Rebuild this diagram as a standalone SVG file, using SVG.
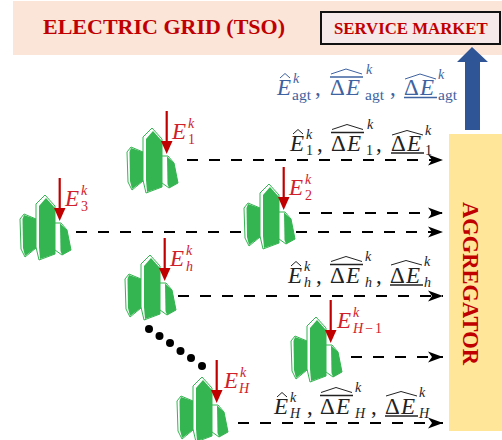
<svg xmlns="http://www.w3.org/2000/svg" width="502" height="440" viewBox="0 0 502 440">
<style>
text{font-family:"Liberation Serif",serif}
.t{font-weight:bold;fill:#c00000}
.e{font-style:italic;font-size:23px}
.r{font-size:23px}
.s{font-size:14px}
.a{font-size:15.500px}
.i{font-style:italic}
.lab{fill:#222}
.blue{fill:#3f62a0}
.red{fill:#d0202a}
.lh{fill:none;stroke:#222;stroke-width:1}
.lb{stroke:#222;stroke-width:1.4}
.bh{fill:none;stroke:#3f62a0;stroke-width:1}
.bb{stroke:#3f62a0;stroke-width:1.4}
.c{fill:none;stroke:#000;stroke-width:2;stroke-dasharray:11 11;marker-end:url(#ah)}
.w{fill:#fff;stroke:#35b551;stroke-width:1}
.g{fill:#35b551}
</style>
<defs>
<marker id="ah" markerUnits="userSpaceOnUse" markerWidth="16" markerHeight="12" refX="15" refY="6" orient="auto"><path d="M0 0.5L15 6L0 11.500L4 6Z" fill="#000"/></marker>
<g id="bld">
<path class="w" d="M17 52L21 47L33 52V81L22 90L18 82Z"/>
<path class="g" d="M19.500 52L21 48L33 52V81L22 89L20 81Z"/>
<path class="w" d="M33 37L42 28L52 39V87L36 93L33 80Z"/>
<path class="g" d="M36 39L43 31L52 41V87L37 92L36 80Z"/>
<path class="w" d="M52 56L58 56L64 63L68 83L59 88L52 83Z"/>
<path class="g" d="M57 56.500L64 63L68 83L59 88L57.500 84Z"/>
<path d="M56.700 11V44" stroke="#c00000" stroke-width="2.200" fill="none"/>
<path d="M51 41H62.500L56.700 54Z" fill="#c00000"/>
</g>
</defs>
<rect x="13" y="1" width="489" height="54" fill="#fae5d8"/>
<g id="grid"><text class="t" x="43" y="34" font-size="22">ELECTRIC GRID (TSO)</text></g>
<g id="market"><rect x="321" y="12" width="179" height="32" fill="#f6e9e9" stroke="#111" stroke-width="2"/><text class="t" x="334" y="34" font-size="16.800">SERVICE MARKET</text></g>
<g id="aggregator"><rect x="449" y="134" width="53" height="297" fill="#ffe699"/><text class="t" transform="translate(463,202) rotate(90)" font-size="22.500">AGGREGATOR</text></g>
<g id="connectors">
<path class="c" d="M187 160H443"/>
<path class="c" d="M299 213H443"/>
<path class="c" d="M76 232H443"/>
<path class="c" d="M178 296H443"/>
<path class="c" d="M351 357H443"/>
<path class="c" d="M238 423H443"/>
<path d="M465 130V62H457L472 47L488 62H480V130Z" fill="#2f5597"/>
<g fill="#000"><circle cx="149" cy="329" r="4"/><circle cx="159.500" cy="336" r="4"/><circle cx="170" cy="343" r="4"/><circle cx="180.500" cy="351" r="4"/><circle cx="191" cy="358" r="4"/><circle cx="202" cy="366" r="4"/></g>
</g>
<g id="h1"><use href="#bld" x="110" y="100"/><text class="red" x="172" y="139"><tspan class="e">E</tspan><tspan class="s i" x="188" y="128">k</tspan><tspan class="s" x="188" y="144">1</tspan></text></g>
<g id="h2"><use href="#bld" x="227" y="156"/><text class="red" x="289" y="195"><tspan class="e">E</tspan><tspan class="s i" x="305" y="184">k</tspan><tspan class="s" x="305" y="200">2</tspan></text></g>
<g id="h3"><use href="#bld" x="3" y="167"/><text class="red" x="65" y="206"><tspan class="e">E</tspan><tspan class="s i" x="81" y="195">k</tspan><tspan class="s" x="81" y="211">3</tspan></text></g>
<g id="hh"><use href="#bld" x="108" y="227"/><text class="red" x="170" y="266"><tspan class="e">E</tspan><tspan class="s i" x="186" y="255">k</tspan><tspan class="s i" x="186" y="271">h</tspan></text></g>
<g id="hH1"><use href="#bld" x="274" y="289"/><text class="red" x="337" y="328"><tspan class="e">E</tspan><tspan class="s i" x="353" y="317">k</tspan><tspan class="s" x="353" y="333"><tspan class="i">H</tspan><tspan dx="2">−</tspan><tspan dx="2">1</tspan></tspan></text></g>
<g id="hH"><use href="#bld" x="160" y="349"/><text class="red" x="224" y="388"><tspan class="e">E</tspan><tspan class="s i" x="240" y="377">k</tspan><tspan class="s i" x="239" y="393">H</tspan></text></g>
<g id="lab1" class="lab">
<path class="lh" d="M293 134L298 129.500L303 134"/><text x="290" y="151"><tspan class="e">E</tspan><tspan class="s i" x="306" y="139">k</tspan><tspan class="s" x="306" y="155">1</tspan><tspan class="r" x="317" y="151">,</tspan></text>
<path class="lb" d="M331 132.500H364"/><path class="lh" d="M332 129.500L347 124.500L363 129.500"/><text x="331" y="151"><tspan class="r">Δ</tspan><tspan class="e" x="347">E</tspan><tspan class="s i" x="367" y="129">k</tspan><tspan class="s" x="366" y="155">1</tspan><tspan class="r" x="376" y="151">,</tspan></text>
<path class="lh" d="M392 135L407 130.500L423 135"/><path class="lb" d="M391 153H424"/><text x="391" y="151"><tspan class="r">Δ</tspan><tspan class="e" x="407">E</tspan><tspan class="s i" x="425" y="135">k</tspan><tspan class="s" x="425" y="155">1</tspan></text>
</g>
<g id="labh" class="lab">
<path class="lh" d="M291 266L296 261.500L301 266"/><text x="288" y="283"><tspan class="e">E</tspan><tspan class="s i" x="304" y="271">k</tspan><tspan class="s i" x="304" y="287">h</tspan><tspan class="r" x="316" y="283">,</tspan></text>
<path class="lb" d="M330 264.500H363"/><path class="lh" d="M331 261.500L346 256.500L362 261.500"/><text x="330" y="283"><tspan class="r">Δ</tspan><tspan class="e" x="346">E</tspan><tspan class="s i" x="365" y="261">k</tspan><tspan class="s i" x="365" y="287">h</tspan><tspan class="r" x="376" y="283">,</tspan></text>
<path class="lh" d="M391 265L406 260.500L422 265"/><path class="lb" d="M390 285H423"/><text x="390" y="283"><tspan class="r">Δ</tspan><tspan class="e" x="406">E</tspan><tspan class="s i" x="424" y="266">k</tspan><tspan class="s i" x="424" y="287">h</tspan></text>
</g>
<g id="labH" class="lab">
<path class="lh" d="M277 397L282 392.500L287 397"/><text x="274" y="414"><tspan class="e">E</tspan><tspan class="s i" x="290" y="402">k</tspan><tspan class="s i" x="290" y="418">H</tspan><tspan class="r" x="307" y="414">,</tspan></text>
<path class="lb" d="M320 395.500H353"/><path class="lh" d="M321 392.500L336 387.500L352 392.500"/><text x="320" y="414"><tspan class="r">Δ</tspan><tspan class="e" x="336">E</tspan><tspan class="s i" x="355" y="392">k</tspan><tspan class="s i" x="355" y="418">H</tspan><tspan class="r" x="371" y="414">,</tspan></text>
<path class="lh" d="M386 396L401 391.500L417 396"/><path class="lb" d="M385 416H418"/><text x="385" y="414"><tspan class="r">Δ</tspan><tspan class="e" x="401">E</tspan><tspan class="s i" x="419" y="397">k</tspan><tspan class="s i" x="419" y="418">H</tspan></text>
</g>
<g id="labagt" class="blue">
<path class="bh" d="M280 78L285 73.500L290 78"/><text x="277" y="95"><tspan class="e">E</tspan><tspan class="s i" x="293" y="83">k</tspan><tspan class="a" x="292" y="100">agt</tspan><tspan class="r" x="315" y="95">,</tspan></text>
<path class="bb" d="M330 77H363"/><path class="bh" d="M331 74L346 69L362 74"/><text x="330" y="95"><tspan class="r">Δ</tspan><tspan class="e" x="346">E</tspan><tspan class="s i" x="366" y="74">k</tspan><tspan class="a" x="365" y="100">agt</tspan><tspan class="r" x="390" y="95">,</tspan></text>
<path class="bh" d="M405 79L420 74L436 79"/><path class="bb" d="M404 97.500H437"/><text x="404" y="95"><tspan class="r">Δ</tspan><tspan class="e" x="420">E</tspan><tspan class="s i" x="438" y="79">k</tspan><tspan class="a" x="438" y="100">agt</tspan></text>
</g>
</svg>
